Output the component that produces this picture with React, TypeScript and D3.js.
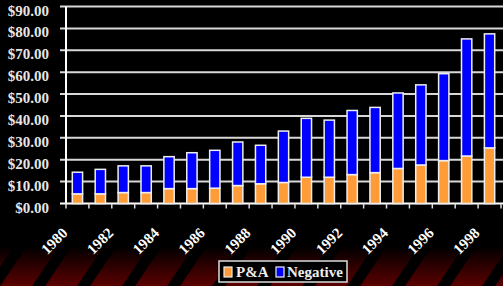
import React, { useRef, useEffect } from 'react';
import * as d3 from 'd3';

// years on the x axis (one bar each)
const years = ['1980', '1981', '1982', '1983', '1984', '1985', '1986', '1987', '1988', '1989',
  '1990', '1991', '1992', '1993', '1994', '1995', '1996', '1997', '1998'];
// bottom segment (orange)
const paValues = [4.4, 4.4, 5.0, 5.0, 6.8, 6.8, 7.0, 8.2, 9.0, 9.6,
  12.0, 12.0, 13.2, 14.1, 16.0, 17.6, 19.6, 21.7, 25.4];
// top segment (blue)
const negativeValues = [9.9, 11.2, 12.2, 12.2, 14.6, 16.4, 17.3, 19.9, 17.6, 23.5,
  26.9, 26.1, 29.3, 29.8, 34.5, 36.6, 39.7, 53.5, 52.1];
const yTicks = [0, 10, 20, 30, 40, 50, 60, 70, 80, 90];
const labelYears = ['1980', '1982', '1984', '1986', '1988', '1990', '1992', '1994', '1996', '1998'];
const seriesNames = ['P&A', 'Negative'];
const seriesColors = ['#ff9c38', '#0000ff'];

const App = () => {
  const svgRef = useRef(null);

  useEffect(() => {
    const width = 503;
    const height = 286;
    const font = '"Liberation Serif", "Times New Roman", serif';

    const svg = d3.select(svgRef.current);
    svg.selectAll('*').remove();

    svg.append('rect').attr('width', width).attr('height', height).attr('fill', '#000');

    // red striped floor at the bottom
    const defs = svg.append('defs');
    const grad = defs.append('linearGradient')
      .attr('id', 'floorGrad').attr('x1', 0).attr('y1', 0).attr('x2', 0).attr('y2', 1);
    grad.append('stop').attr('offset', '0%').attr('stop-color', '#000');
    grad.append('stop').attr('offset', '100%').attr('stop-color', '#5a0000');
    const pat = defs.append('pattern')
      .attr('id', 'stripes').attr('patternUnits', 'userSpaceOnUse')
      .attr('width', 45).attr('height', height)
      .attr('patternTransform', 'skewX(-34)');
    pat.append('rect').attr('x', 0).attr('y', 0).attr('width', 13).attr('height', height).attr('fill', '#000');

    svg.append('rect').attr('x', 0).attr('y', 246).attr('width', width).attr('height', 40)
      .attr('fill', 'url(#floorGrad)');
    svg.append('rect').attr('x', 0).attr('y', 246).attr('width', width).attr('height', 40)
      .attr('fill', 'url(#stripes)');

    const x = d3.scaleBand().domain(years).range([66, 501]).paddingInner(0.55).paddingOuter(0.275);
    const y = d3.scaleLinear().domain([0, 90]).range([203.5, 6.5]);

    // gridlines
    svg.append('g').selectAll('line').data(yTicks).enter().append('line')
      .attr('x1', 60).attr('x2', width)
      .attr('y1', (d) => y(d)).attr('y2', (d) => y(d))
      .attr('stroke', (d) => d === 0 ? '#fff' : '#d8d8d8')
      .attr('stroke-width', 2);

    // y axis line
    svg.append('line').attr('x1', 66).attr('x2', 66).attr('y1', y(90)).attr('y2', y(0))
      .attr('stroke', '#fff').attr('stroke-width', 2);

    // x ticks at band edges
    const edges = years.map((d) => x(d) - (x.step() * x.paddingInner()) / 2);
    edges.push(x(years[years.length - 1]) + x.bandwidth() + (x.step() * x.paddingInner()) / 2);
    svg.append('g').selectAll('line').data(edges).enter().append('line')
      .attr('x1', (d) => d).attr('x2', (d) => d)
      .attr('y1', y(0)).attr('y2', y(0) + 5)
      .attr('stroke', '#ddd').attr('stroke-width', 1.5);

    // y labels
    svg.append('g').selectAll('text').data(yTicks).enter().append('text')
      .attr('x', 49).attr('y', (d) => y(d) + 9)
      .attr('text-anchor', 'end')
      .style('font-family', font).style('font-weight', 'bold').style('font-size', '15px')
      .style('fill', '#e6e6e6')
      .text((d) => `$${d.toFixed(2)}`);

    // stacked bars
    const bars = svg.append('g').selectAll('g').data(years).enter().append('g');
    bars.append('rect')
      .attr('x', (d) => x(d)).attr('width', x.bandwidth())
      .attr('y', (d, i) => y(paValues[i])).attr('height', (d, i) => y(0) - y(paValues[i]))
      .attr('fill', seriesColors[0]).attr('stroke', '#eee').attr('stroke-width', 1.5);
    bars.append('rect')
      .attr('x', (d) => x(d)).attr('width', x.bandwidth())
      .attr('y', (d, i) => y(paValues[i] + negativeValues[i]))
      .attr('height', (d, i) => y(paValues[i]) - y(paValues[i] + negativeValues[i]))
      .attr('fill', seriesColors[1]).attr('stroke', '#eee').attr('stroke-width', 1.5);

    // rotated x labels
    svg.append('g').selectAll('text').data(labelYears).enter().append('text')
      .attr('transform', (d) => `translate(${x(d) + x.bandwidth() / 2 - 9},234) rotate(-45)`)
      .attr('text-anchor', 'end')
      .style('font-family', font).style('font-weight', 'bold').style('font-size', '15px')
      .style('fill', '#fff')
      .text((d) => d);

    // legend
    const lg = svg.append('g');
    lg.append('rect').attr('x', 219).attr('y', 261).attr('width', 128).attr('height', 21)
      .attr('fill', '#000').attr('stroke', '#ddd').attr('stroke-width', 1.5);
    const swX = [224, 276];
    const txX = [236, 287];
    seriesNames.forEach((name, i) => {
      lg.append('rect').attr('x', swX[i]).attr('y', 267).attr('width', 8).attr('height', 10)
        .attr('fill', seriesColors[i]).attr('stroke', '#eee').attr('stroke-width', 1.2);
      lg.append('text').attr('x', txX[i]).attr('y', 277)
        .style('font-family', font).style('font-weight', 'bold').style('font-size', '15px')
        .style('fill', '#eee')
        .text(name);
    });
  }, []);

  return (
    <svg ref={svgRef} width="503" height="286" style={{ position: 'absolute', left: 0, top: 0, display: 'block' }} />
  );
};

export default App;
